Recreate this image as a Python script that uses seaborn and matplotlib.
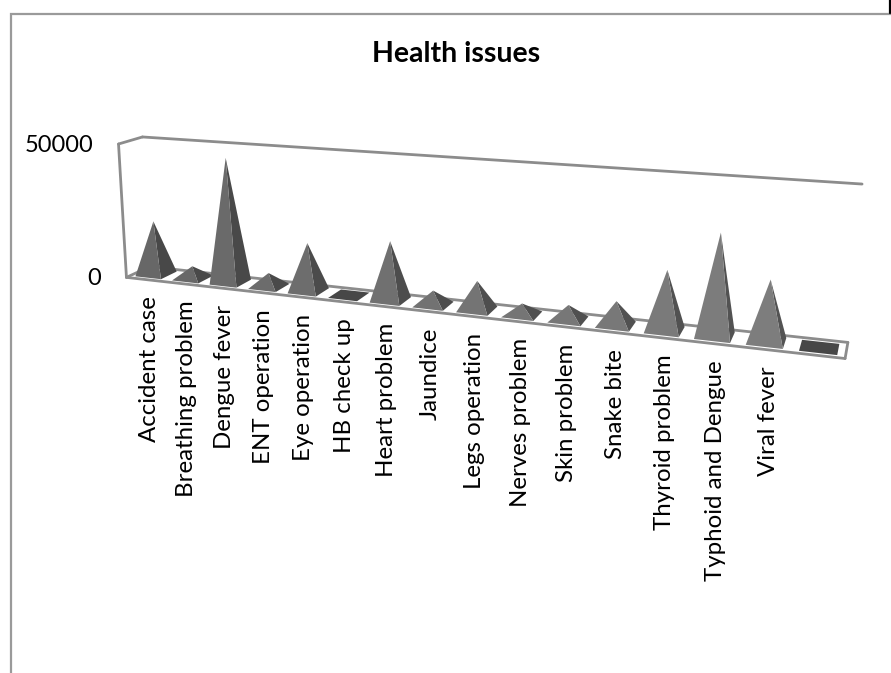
import numpy as np
import pandas as pd
import matplotlib
matplotlib.use("Agg")
import matplotlib.pyplot as plt
import seaborn as sns
from matplotlib.patches import Polygon

sns.set_theme(style="white")
plt.rcParams['font.family'] = ['Lato', 'DejaVu Sans']

# Data
categories = ["Accident case", "Breathing problem", "Dengue fever", "ENT operation",
              "Eye operation", "HB check up", "Heart problem", "Jaundice",
              "Legs operation", "Nerves problem", "Skin problem", "Snake bite",
              "Thyroid problem", "Typhoid and Dengue", "Viral fever", ""]
values = [20200, 4500, 46000, 5000, 17500, 100, 21000, 5000,
          10000, 3800, 5000, 8000, 20000, 33500, 20000, 100]
y_ticks = [0, 50000]
title = "Health issues"

W, H = 891, 673
y_max = 50000
n = len(categories)

# camera fitted on the visible corners of the chart box (x, depth, height -> pixel)
box_3d = [(0, 0, 0), (0, 1, 0), (0, 0, 1), (0, 1, 1), (1, 1, 0), (1, 0, 0), (1, 1, 1)]
box_px = [(128, 277), (148, 267), (117, 144), (144, 137), (848, 342), (845, 359), (862, 184)]
rows = []
for (X, Y, Z), (px, py) in zip(box_3d, box_px):
    rows.append([X, Y, Z, 1, 0, 0, 0, 0, -px * X, -px * Y, -px * Z, -px])
    rows.append([0, 0, 0, 0, X, Y, Z, 1, -py * X, -py * Y, -py * Z, -py])
cam = np.linalg.svd(np.array(rows))[2][-1].reshape(3, 4)


def project(u, depth, value):
    p = cam @ np.array([u / n, depth, value / y_max, 1.0])
    return p[0] / p[2], p[1] / p[2]


fig = plt.figure(figsize=(W / 100, H / 100), dpi=100)

# seaborn does the bars, they get rebuilt as pyramids below
ax = fig.add_axes([0, 0, 1, 1])
df = pd.DataFrame({"issue": categories, "cases": values})
sns.barplot(data=df, x="issue", y="cases", width=0.7, ax=ax)
bars = [(b.get_x() + 0.5, b.get_width(), b.get_height()) for b in ax.patches]
ax.set_visible(False)

canvas = fig.add_axes([0, 0, 1, 1])
canvas.set_xlim(0, W)
canvas.set_ylim(H, 0)
canvas.axis("off")

# outer frame
canvas.plot([11, 11, W], [H, 14, 14], color="#9a9a9a", lw=1.6, solid_joinstyle="miter")
canvas.plot([889.5, 889.5], [0, 13], color="black", lw=1.6)

# chart box
box_color = "#8c8c8c"
box_lines = [
    [(0, 0, 0), (n, 0, 0)], [(n, 0, 0), (n, 1, 0)], [(n, 1, 0), (0, 1, 0)],
    [(0, 1, 0), (0, 0, 0)], [(0, 0, 0), (0, 0, y_max)], [(0, 0, y_max), (0, 1, y_max)],
    [(0, 1, y_max), (n, 1, y_max)],
]
for a, b in box_lines:
    pa, pb = project(*a), project(*b)
    canvas.plot([pa[0], pb[0]], [pa[1], pb[1]], color=box_color, lw=2, zorder=1,
                solid_capstyle="round")

# pyramids
d0, d1 = 0.15, 0.85
for left, width, height in bars:
    right = left + width
    mid = left + width / 2
    apex = project(mid, (d0 + d1) / 2, height)
    fl = project(left, d0, 0)
    fr = project(right, d0, 0)
    br = project(right, d1, 0)
    bl = project(left, d1, 0)
    t = mid / n
    front = np.interp(t, [0, 1], [0.40, 0.50])
    side = np.interp(t, [0, 1], [0.28, 0.33])
    if height < 500:
        canvas.add_patch(Polygon([fl, fr, br, bl], closed=True, fc="#474747", ec="none", zorder=3))
        continue
    canvas.add_patch(Polygon([fr, br, apex], closed=True, fc=str(side), ec="none", zorder=3))
    canvas.add_patch(Polygon([fl, fr, apex], closed=True, fc=str(front), ec="none", zorder=3))

# category labels
for (left, width, height), name in zip(bars, categories):
    px, py = project(left + width / 2, 0, 0)
    canvas.text(px + 5, py + 17, name, rotation=90, ha="center", va="top",
                fontsize=17.3, color="black")

# y ticks
for v in y_ticks:
    px, py = project(0, 0, v)
    canvas.text(px - 25, py + 1, str(v), ha="right", va="center",
                fontsize=17, color="black")

canvas.text(456.5, 53.5, title, ha="center", va="center", fontsize=20.5,
            fontweight="bold", color="black")

fig.savefig("out.png", dpi=100, facecolor="white")
